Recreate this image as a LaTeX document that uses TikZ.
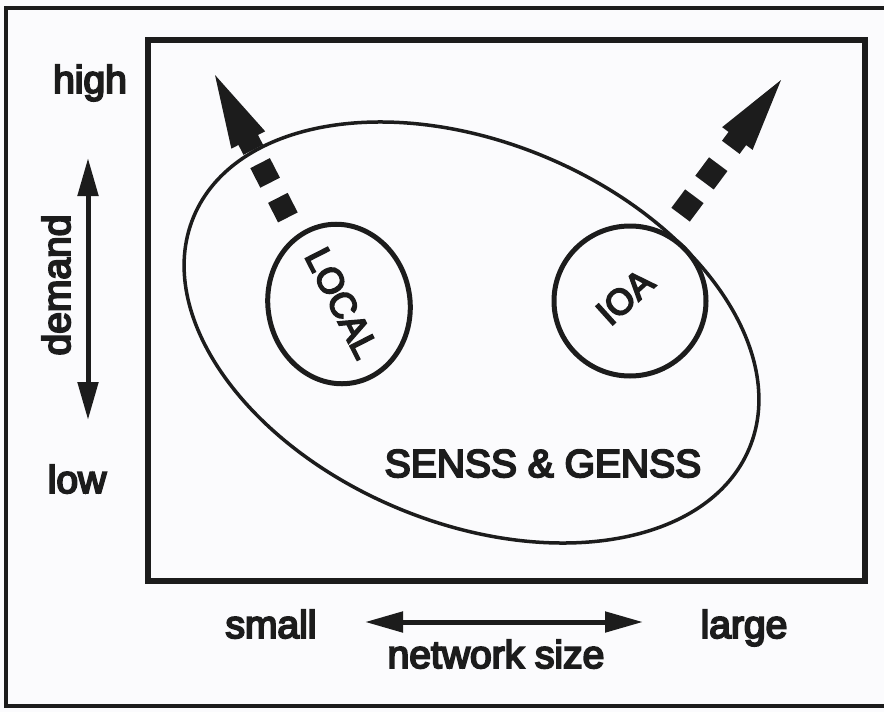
\documentclass[tikz,border=0pt]{standalone}
\usepackage{fontspec}
\setmainfont{Liberation Sans}
\newfontfamily\heavy{Liberation Sans}[FakeBold=5]
\usetikzlibrary{arrows.meta,shapes.geometric}
\definecolor{paper}{HTML}{FBFBFD}
\definecolor{ink}{HTML}{1C1C1C}
\begin{document}
\begin{tikzpicture}[x=1pt,y=-1pt,
  lbl/.style={font=\heavy\fontsize{39}{44}\selectfont, text=ink, inner sep=0pt},
  inlbl/.style={font=\heavy\fontsize{36}{40}\selectfont, text=ink, inner sep=0pt},
  ring/.style={draw=ink, ellipse, line width=5pt, inner sep=0pt},
  dblarrow/.style={draw=ink, line width=5pt,
     {Triangle[length=38pt,width=20pt]}-{Triangle[length=38pt,width=20pt]}},
  square/.style={fill=ink}]
\useasboundingbox (0,0) rectangle (884,712);
\fill[paper] (0,0) rectangle (884,712);
% frames
\draw[ink, line width=4pt] (6,8) rectangle (900,706);
\draw[ink, line width=6pt] (148,40) rectangle (865,581);
% ellipses
\node[ring, line width=3.5pt, minimum width=602pt, minimum height=381pt, rotate=-22.6] (big) at (471.5,332.5) {};
\node[ring, minimum width=142pt, minimum height=160pt, rotate=10] (local) at (339,304) {};
\node[ring, minimum width=152pt, minimum height=150pt] (ioa) at (630,301) {};
% inner labels
\node[inlbl, rotate=-63] (localtxt) at (342,303) {LOCAL};
\node[inlbl, rotate=42] (ioatxt) at (625,297) {IOA};
\node[lbl, anchor=base] (senss) at (543,477) {SENSS \& GENSS};
% axis labels
\node[lbl, anchor=base] (high) at (90,93) {high};
\node[lbl, anchor=base] (low) at (77,493) {low};
\node[lbl, anchor=base, rotate=90] (demand) at (70,285) {demand};
\node[lbl, anchor=base] (small) at (271,638) {small};
\node[lbl, anchor=base] (large) at (744,638) {large};
\node[lbl, anchor=base] (netsize) at (496,668) {network size};
% axis arrows
\coordinate (dtop) at (88,158);
\coordinate (dbot) at (88,420);
\draw[dblarrow] (dbot) -- (dtop);
\coordinate (nleft) at (365,622);
\coordinate (nright) at (643,622);
\draw[dblarrow] (nleft) -- (nright);
% dashed growth arrows
\coordinate (ltip) at (215,75);
\coordinate (rtip) at (781,80);
\begin{scope}[shift={(ltip)}, rotate=117.1]
  \fill[ink] (0,0) -- (-73,19) -- (-73,11) -- (-84,11) -- (-84,-11) -- (-73,-11) -- (-73,-19) -- cycle;
  \fill[ink] (-99,-11) rectangle (-121,11);
  \fill[ink] (-138,-11) rectangle (-160,11);
\end{scope}
\begin{scope}[shift={(rtip)}, rotate=53.3]
  \fill[ink] (0,0) -- (-73,19) -- (-73,11) -- (-84,11) -- (-84,-11) -- (-73,-11) -- (-73,-19) -- cycle;
  \fill[ink] (-105,-11.5) rectangle (-128,11.5);
  \fill[ink] (-145,-11.5) rectangle (-168,11.5);
\end{scope}
\end{tikzpicture}
\end{document}
